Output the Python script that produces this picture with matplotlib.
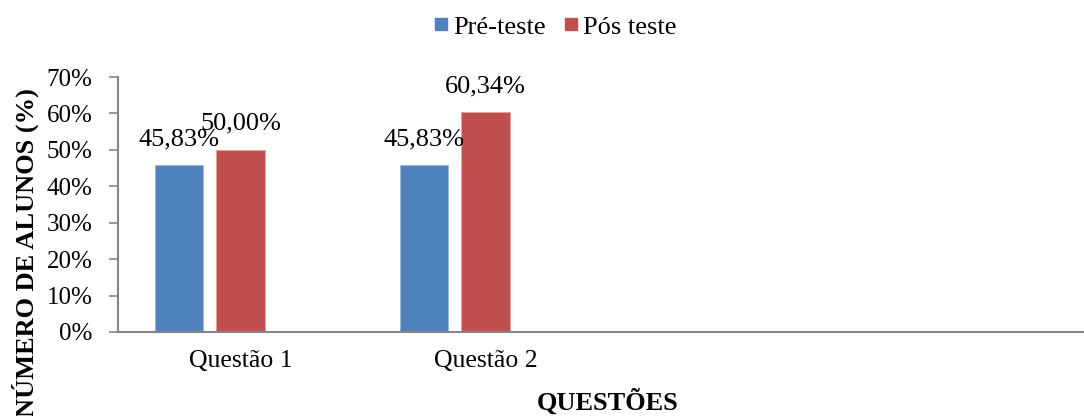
import numpy as np
import matplotlib as mpl
mpl.use('Agg')
import matplotlib.pyplot as plt
from matplotlib.lines import Line2D
from matplotlib.ticker import FuncFormatter

plt.rcParams['font.family'] = ['Liberation Serif', 'DejaVu Serif']

questoes = ['Questão 1', 'Questão 2']
pre_teste = [45.83, 45.83]
pos_teste = [50.00, 60.34]
series_names = ['Pré-teste', 'Pós teste']
yticks = [0, 10, 20, 30, 40, 50, 60, 70]

BLUE = '#4F81BD'
RED = '#C0504D'
GRAY = '#868686'

fig = plt.figure(figsize=(10.84, 4.16), dpi=100)
W, H = 1084, 416
ax = fig.add_axes([118 / W, 1 - 332 / H, (1084 - 118) / W, (332 - 77) / H])

x = np.arange(len(questoes))
bw = 0.196
off = [-0.251, 0.0]
bars_pre = ax.bar(x + off[0], pre_teste, bw, color=BLUE, edgecolor='#9DB4D8', linewidth=0.6)
bars_pos = ax.bar(x + off[1], pos_teste, bw, color=RED, edgecolor='#DFA3A1', linewidth=0.6)

# value labels just above each bar
for bars, vals in ((bars_pre, pre_teste), (bars_pos, pos_teste)):
    for b, v in zip(bars, vals):
        ax.annotate(f'{v:.2f}%'.replace('.', ','), (b.get_x() + b.get_width() / 2, v),
                    xytext=(0, 26), textcoords='offset pixels', ha='center', va='center',
                    fontsize=19)

ax.set_xlim(-0.5, (1084 - 118) / 245 - 0.5)
ax.set_ylim(0, 70)
ax.set_yticks(yticks)
ax.yaxis.set_major_formatter(FuncFormatter(lambda v, p: f'{v:.0f}%'))
ax.set_xticks(x)
ax.set_xticklabels(questoes)
ax.tick_params(axis='y', length=6.5, width=1.2, color=GRAY, pad=12, labelsize=18, direction='out')
ax.tick_params(axis='x', length=0, pad=13, labelsize=18.5)

for s in ['top', 'right']:
    ax.spines[s].set_visible(False)
for s in ['left', 'bottom']:
    ax.spines[s].set_color(GRAY)
    ax.spines[s].set_linewidth(1.5)

fig.text(25 / W, 1 - 88 / H, 'NÚMERO DE ALUNOS (%)', rotation=90, ha='center', va='top',
         fontsize=19, fontweight='bold')
fig.text(608 / W, 1 - 402 / H, 'QUESTÕES', ha='center', va='center', fontsize=19, fontweight='bold')

handles = [Line2D([], [], marker='s', color=c, linestyle='none', markersize=9) for c in (BLUE, RED)]
fig.legend(handles, series_names, loc='center', bbox_to_anchor=(554 / W, 1 - 27 / H), ncol=2,
           frameon=False, fontsize=19, handletextpad=0.1, columnspacing=0.6, handlelength=0.7,
           borderpad=0)

fig.savefig('out.png', dpi=100)
